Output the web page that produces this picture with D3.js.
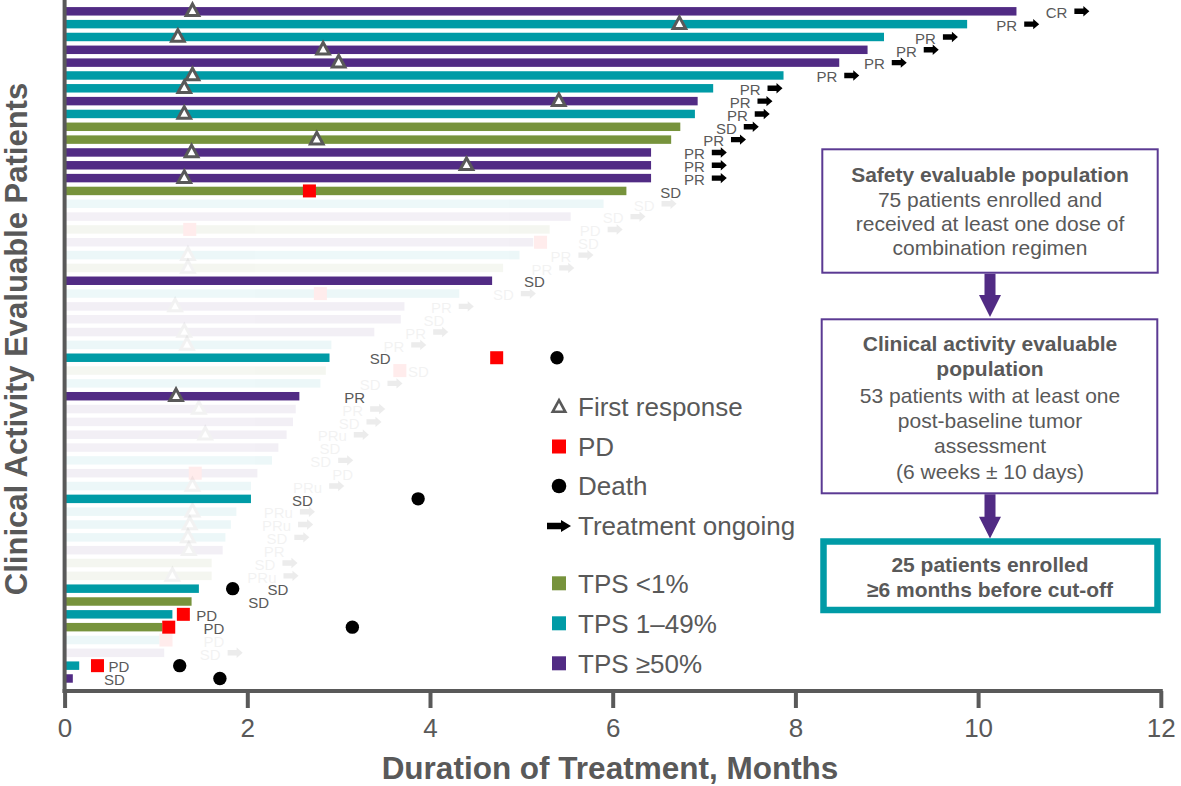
<!DOCTYPE html>
<html>
<head>
<meta charset="utf-8">
<script src="https://cdn.jsdelivr.net/npm/d3@7"></script>
<style>
  body { margin: 0; background: #fff; }
  svg { display: block; font-family: "Liberation Sans", Arial, Helvetica, sans-serif; }
</style>
</head>
<body>
<svg id="chart" width="1181" height="786"></svg>
<script>
// ---- Patient rows, listed top to bottom (53 clinical-activity evaluable patients) ----
// PD-L1 tumour proportion score group: lo = <1%, mid = 1–49%, hi = ≥50%
const tps = ["hi","mid","mid","hi","hi","mid","mid","hi","mid","lo","lo","hi","hi","hi","lo",
  "mid","hi","lo","hi","mid","lo","hi","mid","hi","hi","hi","mid","mid","lo","mid","hi","hi","hi",
  "hi","hi","mid","hi","mid","mid","mid","mid","mid","hi","lo","lo","mid","lo","mid","lo","mid","hi","mid","hi"];

// Duration of treatment, months
const duration = [10.42, 9.88, 8.97, 8.79, 8.48, 7.87, 7.10, 6.93, 6.90, 6.74, 6.64, 6.42, 6.42, 6.42, 6.15,
  5.90, 5.54, 5.31, 5.13, 4.98, 4.80, 4.68, 4.32, 3.72, 3.68, 3.39, 2.92, 2.90, 2.86, 2.80, 2.57, 2.53, 2.50,
  2.43, 2.34, 2.27, 2.11, 2.04, 2.04, 1.88, 1.82, 1.76, 1.73, 1.61, 1.61, 1.47, 1.39, 1.18, 1.07, 1.04, 1.09, 0.16, 0.09];

// Time of first response, months (null = none)
const firstResponse = [1.40, 6.73, 1.24, 2.83, 3.00, 1.40, 1.31, 5.41, 1.31, null, 2.76, 1.39, 4.40, 1.31, null,
  null, null, null, null, 1.35, 1.35, null, null, 1.21, null, 1.31, 1.34, null, null, null, 1.22, 1.47, null,
  1.54, null, null, null, 1.40, null, 1.40, 1.37, 1.35, 1.36, null, 1.18, null, null, null, null, null, null, null, null];

// Time of progressive disease, months (null = none)
const progression = [null, null, null, null, null, null, null, null, null, null, null, null, null, null, 2.68,
  null, null, 1.37, 5.21, null, null, null, 2.80, null, null, null, null, 4.73, 3.67, null, null, null, null,
  null, null, null, 1.43, null, null, null, null, null, null, null, null, null, null, 1.30, 1.14, 1.11, null, 0.36, null];

// Time of death, months (null = none)
const deaths = [null, null, null, null, null, null, null, null, null, null, null, null, null, null, null,
  null, null, null, null, null, null, null, null, null, null, null, null, 5.39, null, null, null, null, null,
  null, null, null, null, null, 3.87, null, null, null, null, null, null, 1.84, null, null, 3.15, null, null, 1.26, 1.70];

// Best overall response
const bestResponse = ["CR","PR","PR","PR","PR","PR","PR","PR","PR","SD","PR","PR","PR","PR","SD",
  "SD","SD","PD","SD","PR","PR","SD","SD","PR","SD","PR","PR","SD","SD","SD","PR","PR","SD",
  "PRu","SD","SD","PD","PRu","SD","PRu","PRu","SD","PR","SD","PRu","SD","SD","PD","PD","PD","SD","PD","SD"];

// Treatment ongoing at cut-off (1 = yes)
const ongoing = [1,1,1,1,1,1,1,1,1,1,1,1,1,1,0,
  1,1,1,0,1,1,0,1,1,0,1,1,0,0,1,0,1,1,
  1,0,1,0,1,0,1,1,1,0,1,1,0,0,0,0,0,1,0,0];

// Enrolled ≥6 months before cut-off (1 = yes); other rows are shown muted
const cohort6m = [1,1,1,1,1,1,1,1,1,1,1,1,1,1,1,
  0,0,0,0,0,0,1,0,0,0,0,0,1,0,0,1,0,0,
  0,0,0,0,0,1,0,0,0,0,0,0,1,1,1,1,0,0,1,1];

// Where each response annotation sits along the time axis, months
const labelAt = [10.74, 10.20, 9.31, 9.10, 8.75, 8.23, 7.39, 7.28, 7.25, 7.13, 6.99, 6.78, 6.78, 6.78, 6.52,
  6.23, 5.89, 5.64, 5.62, 5.32, 5.11, 5.03, 4.69, 4.01, 3.93, 3.73, 3.49, 3.34, 3.76, 3.23, 3.06, 3.04, 3.00,
  2.77, 2.79, 2.69, 2.93, 2.50, 2.49, 2.18, 2.16, 2.21, 2.18, 2.08, 2.00, 2.22, 2.01, 1.44, 1.52, 1.52, 1.48, 0.48, 0.43];

// Axis ticks and legend entries
const xTicks = [0, 2, 4, 6, 8, 10, 12];
const markerLegend = ["First response", "PD", "Death", "Treatment ongoing"];
const tpsLegend = [["lo", "TPS <1%"], ["mid", "TPS 1\u201349%"], ["hi", "TPS \u226550%"]];

// ---- Styling ----
const colour = { lo: "#77933c", mid: "#009ba6", hi: "#512b84" };
const GREY = "#595959";
const MUTED = 0.07;

const svg = d3.select("#chart");

const x = d3.scaleLinear().domain([0, 12]).range([64.6, 1160.8]);
const y = d3.scaleBand().domain(d3.range(duration.length)).range([4.9, 684.9])
  .paddingInner(0.34).paddingOuter(0.17);
const bh = y.bandwidth();

const trianglePath = "M0,-7.3L6.3,4.3L-6.3,4.3Z";
const arrowPath = "M0,-2.7H9V-5.2L15,0L9,5.2V2.7H0Z";

const rows = d3.range(duration.length).map(i => ({
  i, tps: tps[i], dur: duration[i], fr: firstResponse[i], pd: progression[i], death: deaths[i],
  resp: bestResponse[i], ongoing: ongoing[i] === 1, lab: labelAt[i], cohort: cohort6m[i] === 1
}));

// ---- Swimmer rows ----
const rowG = svg.append("g").attr("class", "rows")
  .selectAll("g").data(rows).join("g")
  .attr("transform", d => `translate(0,${y(d.i) + bh / 2})`)
  .attr("opacity", d => d.cohort ? 1 : MUTED);

rowG.append("rect")
  .attr("x", x(0))
  .attr("y", -bh / 2)
  .attr("width", d => x(d.dur) - x(0))
  .attr("height", bh)
  .attr("fill", d => colour[d.tps]);

rowG.filter(d => d.fr != null).append("path")
  .attr("d", trianglePath)
  .attr("transform", d => `translate(${x(d.fr)},0)`)
  .attr("fill", "#fff")
  .attr("stroke", GREY)
  .attr("stroke-width", 3);

rowG.filter(d => d.pd != null).append("rect")
  .attr("x", d => x(d.pd) - 6.5)
  .attr("y", -6.5)
  .attr("width", 13).attr("height", 13)
  .attr("fill", "#ff0000");

rowG.filter(d => d.death != null).append("circle")
  .attr("cx", d => x(d.death))
  .attr("r", 6.7)
  .attr("fill", "#000");

const labels = rowG.append("text")
  .attr("x", d => x(d.lab))
  .attr("y", 1.5)
  .attr("dy", "0.35em")
  .attr("font-size", 15)
  .attr("fill", GREY)
  .text(d => d.resp);

labels.each(function (d) { d.labW = this.getComputedTextLength(); });

rowG.filter(d => d.ongoing).append("path")
  .attr("d", arrowPath)
  .attr("transform", d => `translate(${x(d.lab) + d.labW + 7},0)`)
  .attr("fill", "#000");

// ---- Axes ----
const axisY = 691;
const xAxis = svg.append("g")
  .attr("transform", `translate(0,${axisY})`)
  .call(d3.axisBottom(x).tickValues(xTicks).tickSize(17).tickSizeOuter(0).tickPadding(11));
xAxis.select(".domain").attr("stroke", GREY).attr("stroke-width", 4)
  .attr("d", `M${x(0) - 2},0H${x(12) + 2}`);
xAxis.selectAll(".tick line").attr("stroke", GREY).attr("stroke-width", 4);
xAxis.selectAll(".tick text").attr("fill", GREY).attr("font-size", 26)
  .attr("font-family", "'Liberation Sans', Arial, sans-serif");

svg.append("line")
  .attr("x1", x(0)).attr("x2", x(0))
  .attr("y1", 0).attr("y2", axisY + 2)
  .attr("stroke", GREY).attr("stroke-width", 4);

svg.append("text")
  .attr("x", 610).attr("y", 779)
  .attr("text-anchor", "middle")
  .attr("font-size", 31.5).attr("font-weight", "bold").attr("fill", GREY)
  .text("Duration of Treatment, Months");

svg.append("text")
  .attr("transform", "translate(27,339) rotate(-90)")
  .attr("text-anchor", "middle")
  .attr("font-size", 31).attr("font-weight", "bold").attr("fill", GREY)
  .text("Clinical Activity Evaluable Patients");

// ---- Legend ----
const lg = svg.append("g").attr("class", "legend");
const lgX = 559, lgText = 578;
const lgRows = [407, 446.5, 486, 526, 583.3, 623.3, 663.3];

lg.append("path").attr("d", trianglePath)
  .attr("transform", `translate(${lgX},${lgRows[0] + 0.5})`)
  .attr("fill", "#fff").attr("stroke", GREY).attr("stroke-width", 2.6);
lg.append("rect").attr("x", lgX - 7).attr("y", lgRows[1] - 7).attr("width", 14).attr("height", 14).attr("fill", "#ff0000");
lg.append("circle").attr("cx", lgX).attr("cy", lgRows[2]).attr("r", 7.3).attr("fill", "#000");
lg.append("path").attr("d", "M0,-3.2H14V-6L24,0L14,6V3.2H0Z")
  .attr("transform", `translate(547,${lgRows[3]})`).attr("fill", "#000");

markerLegend.forEach((t, k) => {
  lg.append("text").attr("x", lgText).attr("y", lgRows[k]).attr("dy", "0.36em")
    .attr("font-size", 26).attr("fill", GREY).text(t);
});
tpsLegend.forEach(([key, t], k) => {
  const cy = lgRows[4 + k];
  lg.append("rect").attr("x", lgX - 7).attr("y", cy - 7).attr("width", 14).attr("height", 14).attr("fill", colour[key]);
  lg.append("text").attr("x", lgText).attr("y", cy).attr("dy", "0.36em")
    .attr("font-size", 26).attr("fill", GREY).text(t);
});

// ---- Population flow boxes ----
const flow = svg.append("g").attr("class", "flow");
const boxCx = 990;
const PURPLE_BOX = "#5b3a93";

function box(x0, y0, x1, y1, stroke, sw) {
  flow.append("rect").attr("x", x0).attr("y", y0).attr("width", x1 - x0).attr("height", y1 - y0)
    .attr("fill", "#fff").attr("stroke", stroke).attr("stroke-width", sw);
}
function lines(list) {
  list.forEach(([t, cy, bold]) => {
    flow.append("text").attr("x", boxCx).attr("y", cy).attr("dy", "0.36em")
      .attr("text-anchor", "middle").attr("font-size", 21)
      .attr("font-weight", bold ? "bold" : "normal").attr("fill", GREY).text(t);
  });
}
function downArrow(yTop, yHead, yTip) {
  flow.append("path")
    .attr("d", `M${boxCx - 5.5},${yTop}V${yHead}H${boxCx - 11}L${boxCx},${yTip}L${boxCx + 11},${yHead}H${boxCx + 5.5}V${yTop}Z`)
    .attr("fill", "#512b84");
}

box(822.3, 149.3, 1157.7, 272.7, PURPLE_BOX, 2);
lines([["Safety evaluable population", 174.3, true],
       ["75 patients enrolled and", 199, false],
       ["received at least one dose of", 223.3, false],
       ["combination regimen", 247.3, false]]);
downArrow(273.7, 295, 317);

box(821.7, 319.3, 1157.3, 493.3, PURPLE_BOX, 2);
lines([["Clinical activity evaluable", 343.3, true],
       ["population", 368.3, true],
       ["53 patients with at least one", 395, false],
       ["post-baseline tumor", 420, false],
       ["assessment", 445.7, false],
       ["(6 weeks \u00b1 10 days)", 471.7, false]]);
downArrow(494.3, 516.7, 538.5);

box(823.5, 541.5, 1157.5, 610, "#009ba6", 6.5);
lines([["25 patients enrolled", 564, true],
       ["\u22656 months before cut-off", 589.3, true]]);
</script>
</body>
</html>
